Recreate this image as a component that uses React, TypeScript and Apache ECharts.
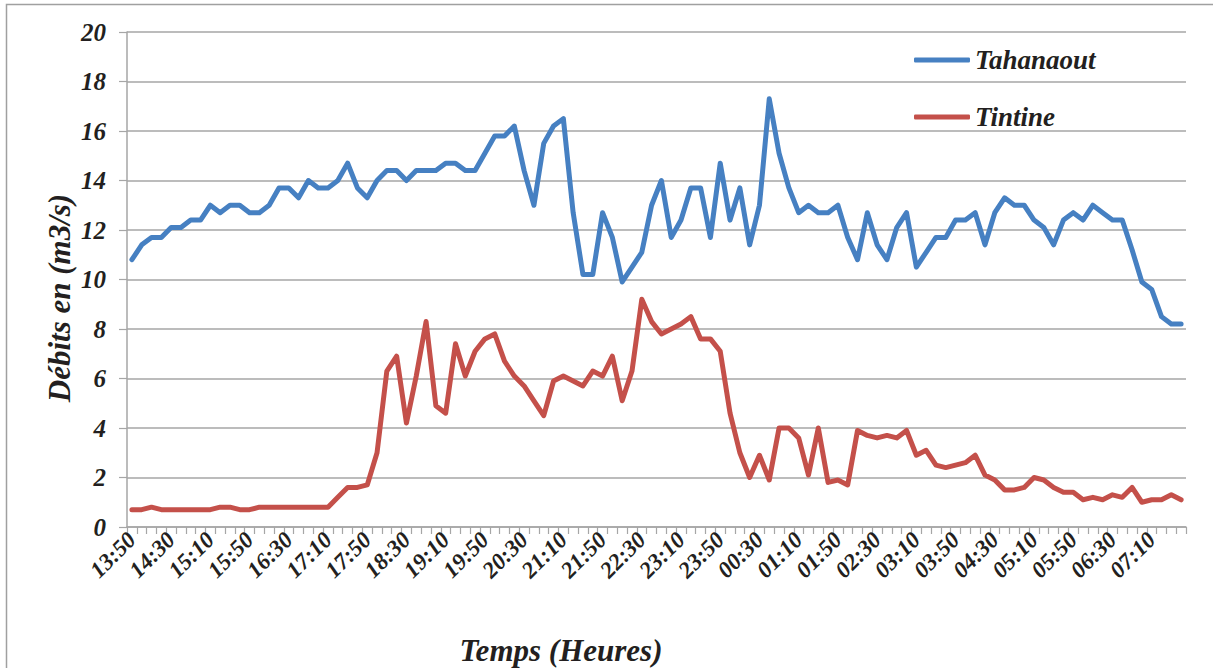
import React, { useEffect, useRef } from "react";
import * as echarts from "echarts";

const categories = [
  "13:50", "14:00", "14:10", "14:20", "14:30", "14:40", "14:50", "15:00", "15:10", "15:20",
  "15:30", "15:40", "15:50", "16:00", "16:10", "16:20", "16:30", "16:40", "16:50", "17:00",
  "17:10", "17:20", "17:30", "17:40", "17:50", "18:00", "18:10", "18:20", "18:30", "18:40",
  "18:50", "19:00", "19:10", "19:20", "19:30", "19:40", "19:50", "20:00", "20:10", "20:20",
  "20:30", "20:40", "20:50", "21:00", "21:10", "21:20", "21:30", "21:40", "21:50", "22:00",
  "22:10", "22:20", "22:30", "22:40", "22:50", "23:00", "23:10", "23:20", "23:30", "23:40",
  "23:50", "00:00", "00:10", "00:20", "00:30", "00:40", "00:50", "01:00", "01:10", "01:20",
  "01:30", "01:40", "01:50", "02:00", "02:10", "02:20", "02:30", "02:40", "02:50", "03:00",
  "03:10", "03:20", "03:30", "03:40", "03:50", "04:00", "04:10", "04:20", "04:30", "04:40",
  "04:50", "05:00", "05:10", "05:20", "05:30", "05:40", "05:50", "06:00", "06:10", "06:20",
  "06:30", "06:40", "06:50", "07:00", "07:10", "07:20", "07:30", "07:40",
];

const tahanaout = [
  10.8, 11.4, 11.7, 11.7, 12.1, 12.1, 12.4, 12.4, 13.0, 12.7,
  13.0, 13.0, 12.7, 12.7, 13.0, 13.7, 13.7, 13.3, 14.0, 13.7,
  13.7, 14.0, 14.7, 13.7, 13.3, 14.0, 14.4, 14.4, 14.0, 14.4,
  14.4, 14.4, 14.7, 14.7, 14.4, 14.4, 15.1, 15.8, 15.8, 16.2,
  14.4, 13.0, 15.5, 16.2, 16.5, 12.7, 10.2, 10.2, 12.7, 11.7,
  9.9, 10.5, 11.1, 13.0, 14.0, 11.7, 12.4, 13.7, 13.7, 11.7,
  14.7, 12.4, 13.7, 11.4, 13.0, 17.3, 15.1, 13.7, 12.7, 13.0,
  12.7, 12.7, 13.0, 11.7, 10.8, 12.7, 11.4, 10.8, 12.1, 12.7,
  10.5, 11.1, 11.7, 11.7, 12.4, 12.4, 12.7, 11.4, 12.7, 13.3,
  13.0, 13.0, 12.4, 12.1, 11.4, 12.4, 12.7, 12.4, 13.0, 12.7,
  12.4, 12.4, 11.2, 9.9, 9.6, 8.5, 8.2, 8.2,
];

const tintine = [
  0.7, 0.7, 0.8, 0.7, 0.7, 0.7, 0.7, 0.7, 0.7, 0.8,
  0.8, 0.7, 0.7, 0.8, 0.8, 0.8, 0.8, 0.8, 0.8, 0.8,
  0.8, 1.2, 1.6, 1.6, 1.7, 3.0, 6.3, 6.9, 4.2, 6.1,
  8.3, 4.9, 4.6, 7.4, 6.1, 7.1, 7.6, 7.8, 6.7, 6.1,
  5.7, 5.1, 4.5, 5.9, 6.1, 5.9, 5.7, 6.3, 6.1, 6.9,
  5.1, 6.3, 9.2, 8.3, 7.8, 8.0, 8.2, 8.5, 7.6, 7.6,
  7.1, 4.6, 3.0, 2.0, 2.9, 1.9, 4.0, 4.0, 3.6, 2.1,
  4.0, 1.8, 1.9, 1.7, 3.9, 3.7, 3.6, 3.7, 3.6, 3.9,
  2.9, 3.1, 2.5, 2.4, 2.5, 2.6, 2.9, 2.1, 1.9, 1.5,
  1.5, 1.6, 2.0, 1.9, 1.6, 1.4, 1.4, 1.1, 1.2, 1.1,
  1.3, 1.2, 1.6, 1.0, 1.1, 1.1, 1.3, 1.1,
];

const seriesNames = ["Tahanaout", "Tintine"];
const seriesColors = ["#4680c2", "#c4504a"];
const xAxisTitle = "Temps (Heures)";
const yAxisTitle = "Débits en (m3/s)";

const FONT = "'Liberation Serif', 'Times New Roman', serif";
const TEXT = "#231f20";
const GRID = "#a6a6a6";

export default function App() {
  const ref = useRef<HTMLDivElement>(null);

  useEffect(() => {
    if (!ref.current) return;
    const chart = echarts.init(ref.current, null, { renderer: "svg" });
    const labelFont = {
      fontFamily: FONT,
      fontWeight: "bold",
      fontStyle: "italic",
      color: TEXT,
    };
    chart.setOption({
      animation: false,
      backgroundColor: "#ffffff",
      grid: { left: 127, right: 27, top: 32, bottom: 141, containLabel: false },
      legend: {
        orient: "vertical",
        left: 909,
        top: 40,
        itemWidth: 56,
        itemHeight: 5,
        itemGap: 27,
        icon: "roundRect",
        data: seriesNames,
        textStyle: { ...labelFont, fontSize: 27, lineHeight: 30 },
      },
      xAxis: {
        type: "category",
        data: categories,
        boundaryGap: true,
        axisLine: { show: true, lineStyle: { color: GRID, width: 1.5 } },
        axisTick: {
          show: true,
          interval: 0,
          length: 7,
          lineStyle: { color: GRID, width: 1.2 },
        },
        axisLabel: {
          ...labelFont,
          interval: 3,
          rotate: 45,
          margin: 9,
          fontSize: 23,
        },
        splitLine: { show: false },
      },
      yAxis: {
        type: "value",
        min: 0,
        max: 20,
        interval: 2,
        axisLine: { show: true, lineStyle: { color: GRID, width: 1.5 } },
        axisTick: { show: true, length: 8, lineStyle: { color: GRID, width: 1.2 } },
        axisLabel: { ...labelFont, fontSize: 25, margin: 21 },
        splitLine: { show: true, lineStyle: { color: GRID, width: 1.5 } },
      },
      series: [
        {
          name: seriesNames[0],
          type: "line",
          data: tahanaout,
          symbol: "none",
          color: seriesColors[0],
          lineStyle: { color: seriesColors[0], width: 5, join: "round", cap: "round" },
        },
        {
          name: seriesNames[1],
          type: "line",
          data: tintine,
          symbol: "none",
          color: seriesColors[1],
          lineStyle: { color: seriesColors[1], width: 5, join: "round", cap: "round" },
        },
      ],
      graphic: [
        {
          type: "rect",
          silent: true,
          z: -10,
          shape: { x: 6.5, y: 4.5, width: 1240, height: 720 },
          style: { fill: "none", stroke: "#a0a0a0", lineWidth: 1.5 },
        },
        {
          type: "text",
          x: 561,
          y: 650,
          style: {
            text: xAxisTitle,
            fontFamily: FONT,
            fontWeight: "bold",
            fontStyle: "italic",
            fontSize: 31,
            fill: TEXT,
            textAlign: "center",
            textVerticalAlign: "middle",
            align: "center",
            verticalAlign: "middle",
          },
        },
        {
          type: "text",
          x: 59,
          y: 298,
          rotation: Math.PI / 2,
          style: {
            text: yAxisTitle,
            fontFamily: FONT,
            fontWeight: "bold",
            fontStyle: "italic",
            fontSize: 31,
            fill: TEXT,
            textAlign: "center",
            textVerticalAlign: "middle",
            align: "center",
            verticalAlign: "middle",
          },
        },
      ],
    });
    return () => chart.dispose();
  }, []);

  return (
    <div
      ref={ref}
      style={{
        position: "fixed",
        left: 0,
        top: 0,
        width: 1213,
        height: 668,
        background: "#ffffff",
      }}
    />
  );
}
